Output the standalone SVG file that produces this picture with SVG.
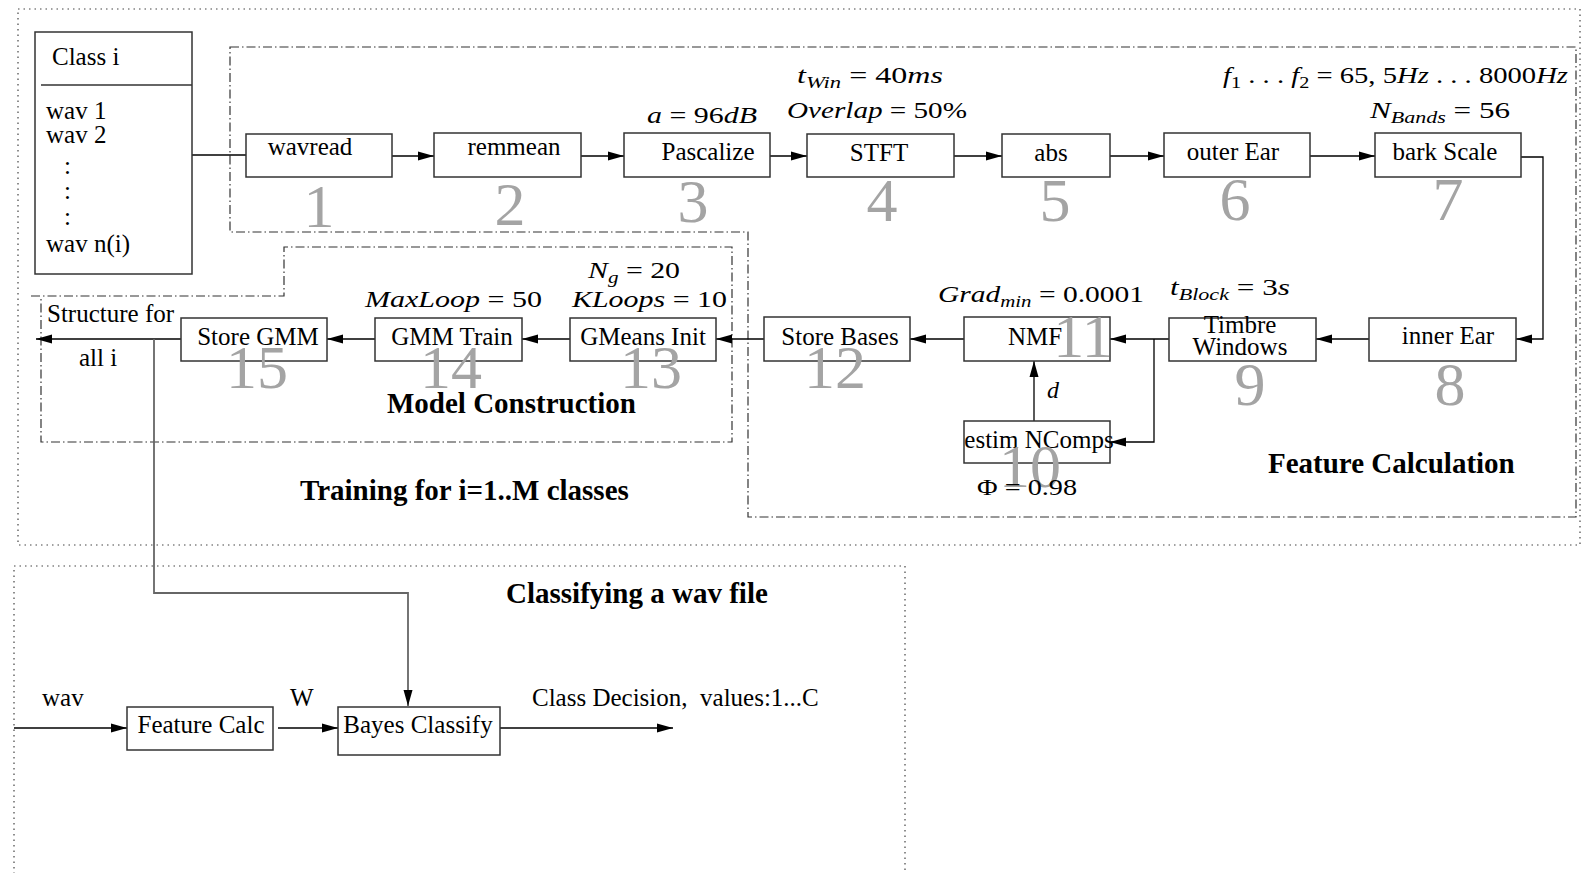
<svg xmlns="http://www.w3.org/2000/svg" width="1591" height="873" viewBox="0 0 1591 873">
<style>
.t{font-family:"Liberation Serif","Times New Roman",serif;font-size:25px;fill:#000}
.m{font-family:"Liberation Serif","Times New Roman",serif;font-size:24px;fill:#000}
.i{font-style:italic}
.b{font-family:"Liberation Serif","Times New Roman",serif;font-size:29px;font-weight:bold;fill:#000}
.n{font-family:"Liberation Serif","Times New Roman",serif;font-size:62px;fill:#a4a4a4;text-anchor:middle}
.box{fill:none;stroke:#333;stroke-width:1.5}
.c{fill:none;stroke:#000;stroke-width:1.3}
.g{fill:none;stroke:#666;stroke-width:1.8}
.dd{fill:none;stroke:#333;stroke-width:1.2;stroke-dasharray:9 3 1.5 3}
.dot{fill:none;stroke:#444;stroke-width:1.2;stroke-dasharray:1.5 4}
.mid{text-anchor:middle}
</style>
<defs>
<marker id="ah" markerUnits="userSpaceOnUse" markerWidth="17" markerHeight="12" refX="16" refY="6" orient="auto">
<path d="M0,1.5 L16,6 L0,10.5 Z" fill="#000"/>
</marker>
</defs>

<g id="regions">
<rect class="dot" x="18" y="9" width="1562" height="536"/>
<rect class="dot" x="14" y="566" width="891" height="330"/>
<path class="dd" d="M230,47 H1576 V517 H748 V232 H230 Z"/>
<path class="dd" d="M31,296 H284 V247 H732 V442 H41 V296"/>
<text class="b" x="300" y="500">Training for i=1..M classes</text>
<text class="b" x="1268" y="473">Feature Calculation</text>
<text class="b" x="387" y="413">Model Construction</text>
<text class="b" x="506" y="603">Classifying a wav file</text>
</g>

<g id="connectors">
<line class="c" x1="192" y1="155" x2="246" y2="155"/>
<line class="c" x1="392" y1="156" x2="434" y2="156" marker-end="url(#ah)"/>
<line class="c" x1="581" y1="156" x2="624" y2="156" marker-end="url(#ah)"/>
<line class="c" x1="770" y1="156" x2="807" y2="156" marker-end="url(#ah)"/>
<line class="c" x1="954" y1="156" x2="1002" y2="156" marker-end="url(#ah)"/>
<line class="c" x1="1110" y1="156" x2="1164" y2="156" marker-end="url(#ah)"/>
<line class="c" x1="1310" y1="156" x2="1375" y2="156" marker-end="url(#ah)"/>
<path class="c" d="M1521,157 H1543 V339 H1516" marker-end="url(#ah)"/>
<line class="c" x1="1369" y1="339" x2="1316" y2="339" marker-end="url(#ah)"/>
<line class="c" x1="1169" y1="339" x2="1110" y2="339" marker-end="url(#ah)"/>
<path class="c" d="M1154,339 V442 H1110" marker-end="url(#ah)"/>
<line class="c" x1="1034" y1="421" x2="1034" y2="361" marker-end="url(#ah)"/>
<line class="c" x1="964" y1="339" x2="910" y2="339" marker-end="url(#ah)"/>
<line class="c" x1="764" y1="339" x2="716" y2="339" marker-end="url(#ah)"/>
<line class="c" x1="570" y1="339" x2="522" y2="339" marker-end="url(#ah)"/>
<line class="c" x1="375" y1="339" x2="327" y2="339" marker-end="url(#ah)"/>
<line class="c" x1="181" y1="339" x2="36" y2="339" marker-end="url(#ah)"/>
<path class="g" d="M154,339 V593 H408 V706" marker-end="url(#ah)"/>
<line class="c" x1="14" y1="728" x2="127" y2="728" marker-end="url(#ah)"/>
<line class="c" x1="278" y1="728" x2="338" y2="728" marker-end="url(#ah)"/>
<line class="c" x1="500" y1="728" x2="673" y2="728" marker-end="url(#ah)"/>
<text class="t" x="47" y="322">Structure for</text>
<text class="t" x="79" y="366">all i</text>
<text class="t" x="42" y="706">wav</text>
<text class="t" x="290" y="706">W</text>
<text class="t" x="532" y="706" xml:space="preserve">Class Decision,  values:1...C</text>
<text class="m i" x="1047" y="398">d</text>
</g>

<g id="class-i">
<rect class="box" x="35" y="32" width="157" height="242"/>
<line class="box" x1="41" y1="85" x2="192" y2="85"/>
<text class="t" x="52" y="65">Class i</text>
<text class="t" x="46" y="119">wav 1</text>
<text class="t" x="46" y="143">wav 2</text>
<text class="t" x="64" y="174">:</text>
<text class="t" x="64" y="199">:</text>
<text class="t" x="64" y="225">:</text>
<text class="t" x="46" y="252">wav n(i)</text>
</g>

<g id="n1"><rect class="box" x="246" y="134" width="146" height="43"/><text class="t mid" x="310" y="155">wavread</text><text class="n" x="319" y="227">1</text></g>
<g id="n2"><rect class="box" x="434" y="133" width="147" height="44"/><text class="t mid" x="514" y="155">remmean</text><text class="n" x="510" y="225">2</text></g>
<g id="n3"><rect class="box" x="624" y="133" width="146" height="44"/><text class="t mid" x="708" y="160">Pascalize</text><text class="n" x="693" y="222">3</text>
<text class="m" x="647" y="123" textLength="110" lengthAdjust="spacingAndGlyphs"><tspan class="i">a</tspan> = 96<tspan class="i">dB</tspan></text></g>
<g id="n4"><rect class="box" x="807" y="134" width="147" height="43"/><text class="t mid" x="879" y="161">STFT</text><text class="n" x="882" y="221">4</text>
<text class="m" x="797" y="83" textLength="146" lengthAdjust="spacingAndGlyphs"><tspan class="i">t</tspan><tspan class="i" font-size="17" dy="5">Win</tspan><tspan dy="-5"> = 40</tspan><tspan class="i">ms</tspan></text>
<text class="m" x="787" y="118" textLength="180" lengthAdjust="spacingAndGlyphs"><tspan class="i">Overlap</tspan> = 50%</text></g>
<g id="n5"><rect class="box" x="1002" y="134" width="108" height="43"/><text class="t mid" x="1051" y="161">abs</text><text class="n" x="1055" y="221">5</text></g>
<g id="n6"><rect class="box" x="1164" y="133" width="146" height="44"/><text class="t mid" x="1233" y="160">outer Ear</text><text class="n" x="1235" y="220">6</text></g>
<g id="n7"><rect class="box" x="1375" y="133" width="146" height="44"/><text class="t mid" x="1445" y="160">bark Scale</text><text class="n" x="1448" y="220">7</text>
<text class="m" x="1223" y="83" textLength="345" lengthAdjust="spacingAndGlyphs"><tspan class="i">f</tspan><tspan font-size="17" dy="5">1</tspan><tspan dy="-5"> . . . </tspan><tspan class="i">f</tspan><tspan font-size="17" dy="5">2</tspan><tspan dy="-5"> = 65, 5</tspan><tspan class="i">Hz</tspan><tspan> . . . 8000</tspan><tspan class="i">Hz</tspan></text>
<text class="m" x="1370" y="118" textLength="140" lengthAdjust="spacingAndGlyphs"><tspan class="i">N</tspan><tspan class="i" font-size="17" dy="5">Bands</tspan><tspan dy="-5"> = 56</tspan></text></g>
<g id="n8"><rect class="box" x="1369" y="318" width="147" height="43"/><text class="t mid" x="1448" y="344">inner Ear</text><text class="n" x="1450" y="405">8</text></g>
<g id="n9"><rect class="box" x="1169" y="318" width="147" height="43"/><text class="t mid" x="1240" y="333">Timbre</text><text class="t mid" x="1240" y="355">Windows</text><text class="n" x="1250" y="405">9</text>
<text class="m" x="1170" y="295" textLength="120" lengthAdjust="spacingAndGlyphs"><tspan class="i">t</tspan><tspan class="i" font-size="17" dy="5">Block</tspan><tspan dy="-5"> = 3</tspan><tspan class="i">s</tspan></text></g>
<g id="n10"><rect class="box" x="964" y="421" width="146" height="42"/><text class="t mid" x="1039" y="448">estim NComps</text><text class="n" x="1030" y="487">10</text>
<text class="m" x="977" y="495" textLength="100" lengthAdjust="spacingAndGlyphs">Φ = 0.98</text></g>
<g id="n11"><rect class="box" x="964" y="317" width="146" height="44"/><text class="t mid" x="1035" y="345">NMF</text><text class="n" x="1083" y="357">11</text>
<text class="m" x="938" y="302" textLength="206" lengthAdjust="spacingAndGlyphs"><tspan class="i">Grad</tspan><tspan class="i" font-size="17" dy="5">min</tspan><tspan dy="-5"> = 0.0001</tspan></text></g>
<g id="n12"><rect class="box" x="764" y="317" width="146" height="44"/><text class="t mid" x="840" y="345">Store Bases</text><text class="n" x="835" y="388">12</text></g>
<g id="n13"><rect class="box" x="570" y="318" width="146" height="43"/><text class="t mid" x="643" y="345">GMeans Init</text><text class="n" x="651" y="388">13</text>
<text class="m" x="588" y="278" textLength="92" lengthAdjust="spacingAndGlyphs"><tspan class="i">N</tspan><tspan class="i" font-size="17" dy="5">g</tspan><tspan dy="-5"> = 20</tspan></text>
<text class="m" x="572" y="307" textLength="155" lengthAdjust="spacingAndGlyphs"><tspan class="i">KLoops</tspan> = 10</text></g>
<g id="n14"><rect class="box" x="375" y="318" width="147" height="43"/><text class="t mid" x="452" y="345">GMM Train</text><text class="n" x="451" y="388">14</text>
<text class="m" x="365" y="307" textLength="177" lengthAdjust="spacingAndGlyphs"><tspan class="i">MaxLoop</tspan> = 50</text></g>
<g id="n15"><rect class="box" x="181" y="318" width="146" height="43"/><text class="t mid" x="258" y="345">Store GMM</text><text class="n" x="257" y="388">15</text></g>
<g id="feature-calc"><rect class="box" x="127" y="707" width="146" height="43"/><text class="t mid" x="201" y="733">Feature Calc</text></g>
<g id="bayes"><rect class="box" x="338" y="707" width="162" height="48"/><text class="t mid" x="418" y="733">Bayes Classify</text></g>
</svg>
